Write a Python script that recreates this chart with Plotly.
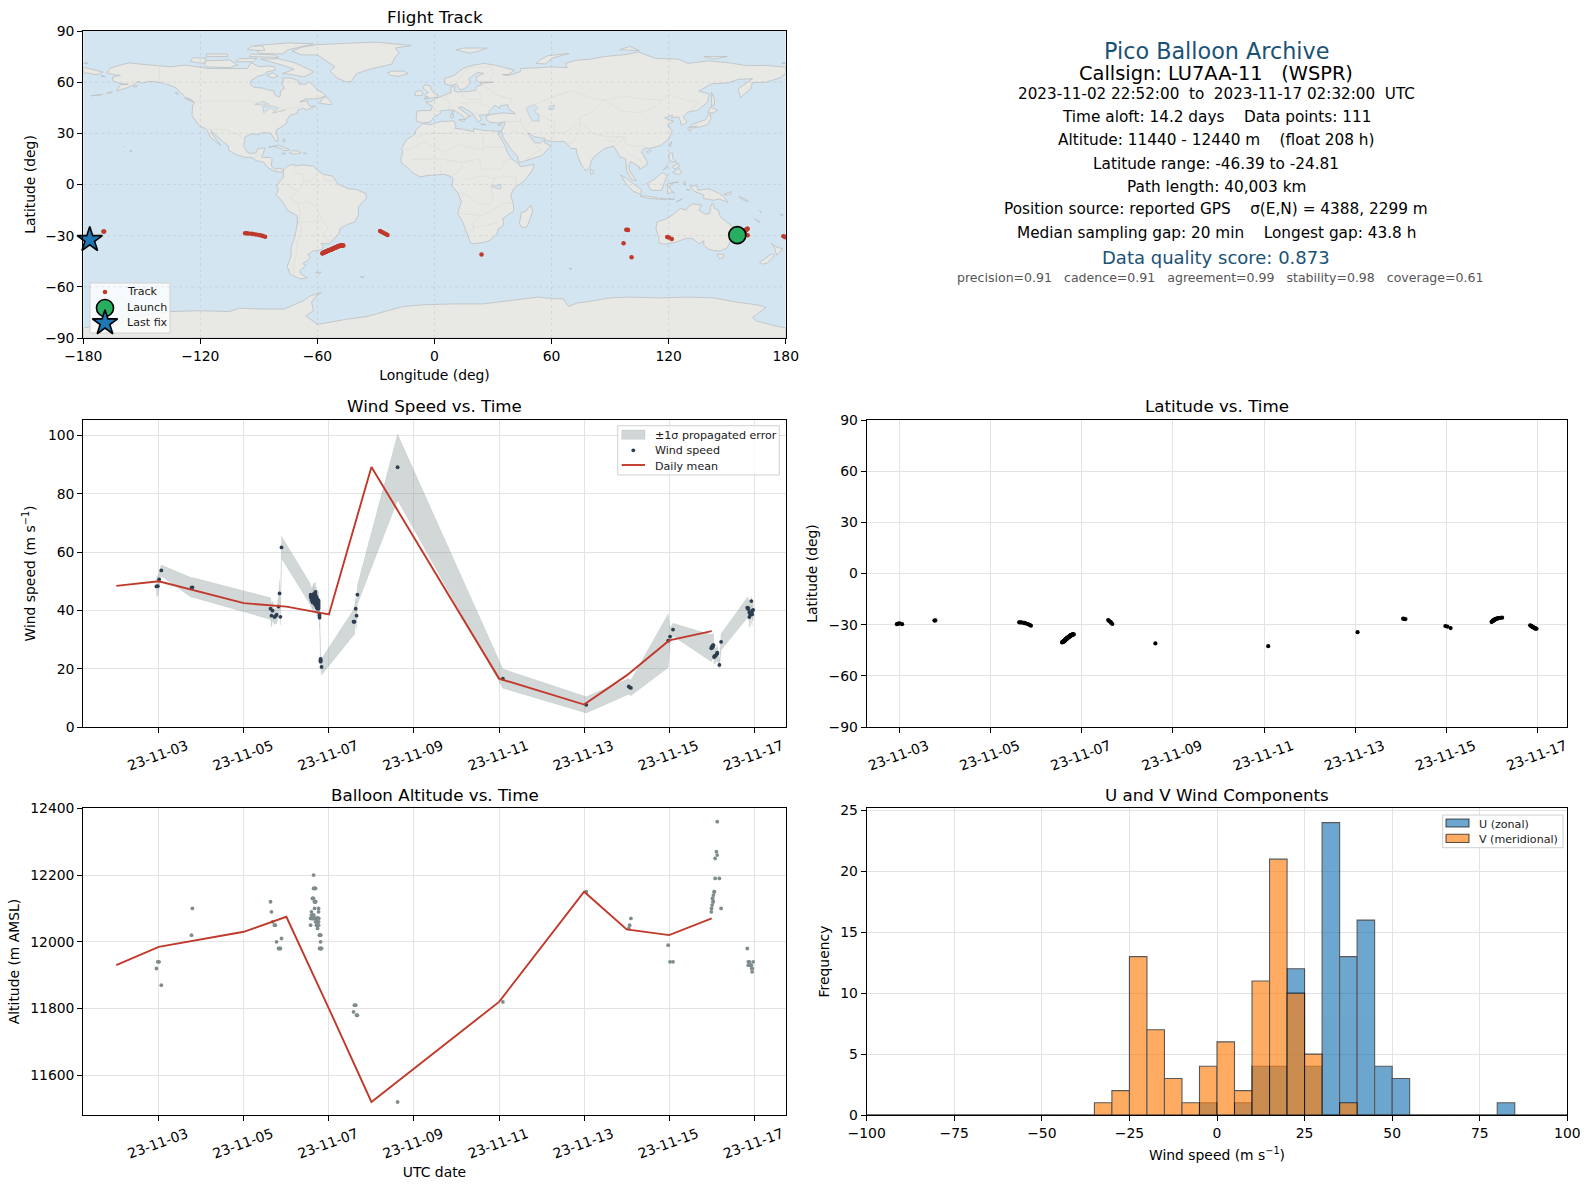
import datetime as dt
import plotly.graph_objects as go

# ---------- flight data (one entry per report) ----------
flight_day = [2.945, 2.976, 3.008, 3.06, 3.77, 3.79,
    5.627, 5.65, 5.675, 5.72, 5.74, 5.77, 5.816, 5.84, 5.86, 5.886,
    6.57, 6.57, 6.59, 6.59, 6.59, 6.616, 6.616, 6.616, 6.616, 6.616,
    6.64, 6.64, 6.64, 6.64, 6.64, 6.64, 6.64, 6.663, 6.663, 6.663, 6.663, 6.663,
    6.686, 6.686, 6.686, 6.686, 6.686, 6.686, 6.71, 6.71, 6.71, 6.71,
    6.733, 6.733, 6.733, 6.733, 6.733, 6.757, 6.757, 6.757, 6.757, 6.757, 6.757,
    6.78, 6.78, 6.78, 6.804, 6.804, 6.804, 6.804, 6.804, 6.827,
    7.58, 7.60, 7.63, 7.65, 7.67, 8.615, 11.09, 13.05, 14.05, 14.07, 14.10, 14.976, 15.02, 15.09,
    15.99, 15.995, 16.01, 16.02, 16.02, 16.03, 16.035, 16.04, 16.06, 16.06, 16.08, 16.08, 16.11, 16.13, 16.13, 16.18, 16.22,
    16.835, 16.86, 16.86, 16.885, 16.885, 16.90, 16.905, 16.93, 16.94, 16.95, 16.95, 16.975]
wind_speed = [48.2, 48.3, 50.6, 53.7, 47.8, 47.9,
    40.6, 38.2, 39.9, 37.7, 38.0, 38.5, 41.3, 45.8, 37.8, 61.6,
    45.4, 44.6, 45.0, 44.2, 43.6, 44.4, 45.0, 43.6, 43.0, 42.8,
    45.6, 44.6, 43.8, 43.2, 42.6, 44.0, 45.0, 45.8, 44.8, 44.0, 43.0, 42.4,
    46.3, 45.4, 44.2, 43.2, 42.4, 41.8, 44.6, 43.4, 42.0, 41.0,
    43.8, 43.0, 42.0, 41.2, 40.6, 43.4, 42.2, 41.2, 40.6, 42.8, 41.6,
    38.9, 37.5, 38.2, 23.4, 22.8, 22.6, 23.0, 22.4, 20.6,
    36.1, 36.1, 40.6, 38.2, 45.4, 89.1, 16.6, 7.6, 13.9, 13.6, 13.4, 29.6, 31.0, 33.4,
    27.0, 27.4, 27.2, 27.9, 27.5, 27.6, 28.1, 28.0, 24.0, 24.2, 24.3, 24.5, 24.8, 25.3, 25.5, 21.3, 29.2,
    40.9, 40.8, 40.4, 39.4, 37.7, 38.9, 38.4, 43.2, 39.2, 38.6, 39.8, 40.2]
wind_sigma = [3.5, 3.4, 2.4, 1.9, 3.4, 3.4,
    3.7, 4.0, 3.2, 2.6, 2.5, 3.0, 3.4, 4.8, 2.8, 3.8,
    3.6, 3.4, 3.2, 3.5, 3.1, 3.8, 3.3, 3.4, 3.6, 3.2,
    3.9, 3.5, 3.8, 3.3, 3.4, 3.2, 3.7, 3.6, 3.5, 3.7, 3.3, 3.4,
    3.4, 3.7, 3.3, 3.5, 3.6, 3.2, 3.4, 3.5, 3.3, 3.1,
    3.2, 3.3, 3.4, 3.0, 2.9, 3.1, 3.2, 3.3, 2.9, 3.0, 3.2,
    2.8, 3.0, 3.1, 3.0, 3.1, 3.2, 2.9, 3.0, 2.8,
    4.6, 4.6, 3.8, 4.5, 3.2, 11.3, 3.3, 2.8, 2.7, 2.6, 2.7, 9.2, 3.0, 2.2,
    4.6, 4.5, 4.4, 4.2, 4.3, 4.4, 4.1, 4.2, 2.6, 2.7, 2.6, 2.5, 2.4, 2.4, 2.5, 1.4, 2.8,
    3.5, 3.6, 3.5, 3.4, 3.6, 3.7, 3.8, 1.6, 3.6, 3.8, 3.7, 3.3]
altitude_m = [11920, 11940, 11940, 11870, 12020, 12100,
    12120, 12090, 12060, 12050, 12050, 12000, 11980, 11980, 11980, 12010,
    12050, 12070, 12090, 12080, 12070, 12130, 12080, 12070, 12130, 12070,
    12200, 12160, 12130, 12080, 12070, 12080, 12070, 12160, 12120, 12100, 12120, 12160,
    12160, 12120, 12070, 12060, 12070, 12120, 12070, 12050, 12070, 12050,
    12070, 12060, 12040, 12060, 12070, 12100, 12090, 12070, 12060, 12050, 12070,
    12020, 11980, 12020, 12020, 12000, 11980, 12020, 11980, 11980,
    11790, 11810, 11810, 11780, 11780, 11520, 11820, 12150, 12040, 12050, 12070, 11990, 11940, 11940,
    12090, 12100, 12110, 12130, 12130, 12120, 12120, 12140, 12150, 12150, 12190, 12250, 12270, 12260, 12360, 12190, 12100,
    11980, 11940, 11930, 11940, 11930, 11930, 11930, 11930, 11920, 11920, 11910, 11940]
latitude = [-29.7, -29.4, -29.3, -29.7, -27.6, -27.5,
    -28.6, -28.6, -28.7, -28.9, -29.0, -29.3, -29.6, -29.9, -30.2, -30.6,
    -40.4, -40.3, -40.1, -40.0, -39.9, -39.8, -39.7, -39.6, -39.5, -39.4,
    -39.3, -39.2, -39.1, -39.0, -38.9, -38.8, -38.7, -38.6, -38.5, -38.4, -38.3, -38.2,
    -38.1, -38.0, -37.9, -37.8, -37.7, -37.6, -37.5, -37.4, -37.3, -37.2,
    -37.1, -37.0, -36.9, -36.8, -36.7, -36.6, -36.5, -36.4, -36.3, -36.2, -36.1,
    -36.0, -35.9, -35.9, -35.8, -35.8, -35.8, -35.7, -35.7, -35.7,
    -27.3, -27.8, -28.4, -29.0, -29.6, -41.0, -42.6, -34.4, -26.5, -26.6, -26.7, -30.8, -31.1, -32.0,
    -28.4, -28.2, -28.0, -27.8, -27.7, -27.5, -27.4, -27.2, -27.1, -26.9, -26.8, -26.6, -26.5, -26.3, -26.2, -26.0, -25.9,
    -30.4, -30.7, -30.9, -31.1, -31.3, -31.5, -31.6, -31.8, -32.0, -32.2, -32.4, -32.4]
longitude = [155.2, 157.5, 159.3, 160.5, -169.7, -169.3,
    -97.1, -96.3, -95.5, -94.0, -93.0, -91.5, -90.0, -88.8, -88.0, -86.8,
    -57.5, -57.3, -57.1, -56.9, -56.7, -56.5, -56.3, -56.1, -55.9, -55.7,
    -55.5, -55.3, -55.1, -54.9, -54.7, -54.5, -54.3, -54.1, -53.9, -53.7, -53.4, -53.2,
    -53.0, -52.8, -52.6, -52.4, -52.2, -52.0, -51.8, -51.6, -51.4, -51.2,
    -51.0, -50.8, -50.6, -50.4, -50.2, -50.0, -49.8, -49.6, -49.4, -49.2, -49.0,
    -48.8, -48.6, -48.3, -48.1, -47.9, -47.6, -47.3, -47.0, -46.7,
    -27.9, -27.0, -26.0, -25.0, -24.1, 24.1, 101.0, 96.9, 98.3, 98.8, 99.2, 119.3, 120.2, 121.6,
    158.0, 158.2, 158.4, 158.5, 158.7, 158.8, 159.0, 159.1, 159.3, 159.4, 159.5, 159.7, 159.8, 160.0, 160.1, 160.3, 160.5,
    178.8, 179.6, 179.9, -179.8, -179.2, -178.7, -178.3, -178.0, -177.7, -177.4, -177.1, -176.7]
assert len({len(flight_day), len(wind_speed), len(wind_sigma), len(altitude_m), len(latitude), len(longitude)}) == 1

# daily means
mean_day = [2, 3, 5, 6, 7, 8, 11, 13, 14, 15, 16]
mean_wind = [48.4, 50.0, 42.5, 41.3, 38.6, 89.2, 16.6, 7.7, 17.7, 29.7, 32.9]
mean_altitude = [11930, 11985, 12030, 12075, 11800, 11520, 11820, 12150, 12037, 12020, 12070]

# histogram (5 m/s bins)
bin_edges = list(range(-100, 105, 5))
u_counts = [0]*19 + [1, 0, 1, 4, 4, 12, 4, 24, 13, 16, 4, 3, 0, 0, 0, 0, 0, 1, 0, 0, 0]
v_counts = [0]*13 + [1, 2, 13, 7, 3, 1, 4, 6, 2, 11, 21, 10, 5, 0, 1, 0, 0, 0, 0, 0, 0, 0, 0, 0, 0, 0, 0, 0]
u_counts = u_counts[:40]
v_counts = v_counts[:40]

info_lines = [
    ("Pico Balloon Archive", 22.3, "#1a5276", 51, 1216),
    ("Callsign: LU7AA-11   (WSPR)", 19.4, "#000000", 73.3, 1216),
    ("2023-11-02 22:52:00  to  2023-11-17 02:32:00  UTC", 15.2, "#000000", 94.5, 1216),
    ("Time aloft: 14.2 days    Data points: 111", 15.3, "#000000", 117.5, 1216),
    ("Altitude: 11440 - 12440 m    (float 208 h)", 15.3, "#000000", 140.5, 1216),
    ("Latitude range: -46.39 to -24.81", 15.3, "#000000", 163.7, 1216),
    ("Path length: 40,003 km", 15.3, "#000000", 186.7, 1216),
    ("Position source: reported GPS    σ(E,N) = 4388, 2299 m", 15.3, "#000000", 209.3, 1216),
    ("Median sampling gap: 20 min    Longest gap: 43.8 h", 15.3, "#000000", 232.7, 1216),
    ("Data quality score: 0.873", 18.0, "#1a5276", 257.5, 1216),
    ("precision=0.91   cadence=0.91   agreement=0.99   stability=0.98   coverage=0.61", 12.55, "#555555", 278, 1220),
]

# ---------- base map outlines (lon, lat) ----------
north_america = [(-168,65.5),(-166,68.3),(-161,70),(-156.5,71.3),(-150,70.5),(-141,69.6),(-135,69),(-128,70),(-124,69.5),(-115,68),(-108,68),(-102,67.8),(-96,68),(-94,71.5),(-90,69),(-85.5,69.5),(-82,69),(-81.5,67),(-86,66),(-87,64.5),(-90.5,63.5),(-94,61),(-94.5,59),(-92.5,57),(-88,56.5),(-85,55.3),(-82.3,55),(-82,52.8),(-80,51.3),(-79,52),(-79,54.5),(-76.8,56.5),(-78.3,58.8),(-77.5,60.5),(-78,62.4),(-73.5,62.4),(-70,61),(-69.5,59),(-66,58.7),(-64.5,60.3),(-62,58),(-60,55.5),(-57,53.5),(-55.7,52),(-60,50.2),(-66,50.2),(-69,48.5),(-65,49),(-65,47.5),(-64,46),(-61,45.8),(-66,43.6),(-67,45),(-70,43.7),(-70.5,41.7),(-74,40.6),(-75.5,38),(-76,35.5),(-78,33.9),(-81,32),(-81.3,30),(-80,26.8),(-80.5,25.2),(-81.8,26),(-82.8,28),(-84,30),(-86,30.4),(-89,30.2),(-90,29.2),(-94,29.6),(-97,28),(-97.5,25),(-97.8,22.5),(-96,19),(-94.5,18.2),(-91.5,18.5),(-90.5,21),(-87,21.5),(-87.7,18.5),(-88.7,16),(-84,15.8),(-83.2,14.9),(-83.7,11),(-82,9),(-79.5,9.5),(-77.4,8.7),(-78,7.3),(-80,7.3),(-81,7.7),(-83,8.3),(-85.5,10),(-87.5,13),(-91.5,14),(-94,16),(-97,15.9),(-101.5,17.5),(-105.5,20),(-105.5,22.5),(-109,25.6),(-112.5,29.5),(-114.7,31.7),(-113,28),(-110,24),(-109.5,23),(-112,25),(-115,28),(-116,30.5),(-117.2,32.6),(-120.5,34.5),(-122.5,37.5),(-124.3,40.4),(-124,46),(-123,48.2),(-125,50),(-127.5,51),(-130.5,54.5),(-133,57),(-137,58.7),(-140,59.7),(-146,60.5),(-150,59.5),(-152,60.5),(-154,58.5),(-158,56.5),(-163,54.8),(-161,58.5),(-157,58.7),(-162,59.5),(-165,61),(-165,63),(-161,64),(-165,64.5)]
south_america = [(-77.4,8.7),(-75.5,10.7),(-72,12),(-71.5,10.8),(-68,11.5),(-62,10.7),(-60,8.4),(-57,6),(-52,4.8),(-50,1),(-48,-0.7),(-44,-2.5),(-40,-2.9),(-35.2,-5.3),(-34.8,-8),(-39,-13),(-39,-18),(-41,-22),(-45,-23.6),(-48.5,-26),(-48.7,-28.5),(-52,-32.5),(-54,-34.8),(-58,-34.5),(-57,-36.5),(-58,-38.3),(-62,-39),(-65,-41),(-63.5,-42.5),(-65.5,-45),(-67.5,-46.3),(-65.8,-47.5),(-69,-50.5),(-68.4,-52.5),(-65.2,-54.8),(-69,-55.4),(-74,-52.5),(-75.5,-48),(-73.5,-42),(-73.5,-37),(-71.5,-30),(-70.2,-22),(-70.5,-18.3),(-75.5,-15),(-78,-10),(-81.2,-6),(-80,-3),(-81,-1),(-79.5,1.5),(-77.5,4),(-77.5,7)]
africa = [(-6,35.8),(-2,35.1),(3,36.9),(10,37.3),(11,34),(10.5,33),(15,32.3),(20,31),(20,32.8),(25,31.7),(32,31.2),(34.3,31.3),(32.5,30),(34,27),(36,23),(37.3,19),(39.5,15),(43.2,12),(44,10.5),(51.2,11.8),(50,8),(46,2),(41,-2),(39,-6),(40.5,-12),(40.5,-15.5),(35,-20),(35.5,-24),(32.7,-26),(32,-29),(28,-33),(25,-34),(20,-34.8),(18.3,-33.9),(17,-29.5),(14.5,-22),(11.8,-17),(13.8,-10),(12,-5),(9,-1),(9.5,3.5),(8.5,4.6),(5,6),(1,5.8),(-4,5.2),(-7.5,4.4),(-11,6.8),(-13.5,9.5),(-16.8,12.4),(-17.3,14.7),(-16.2,19),(-17,21),(-14.5,26),(-10,29.5),(-9.5,32)]
eurasia = [(-5.5,36),(-9,37),(-9.4,38.7),(-8.9,43.2),(-1.8,43.4),(-1.1,46),(-4.7,48.4),(-1.6,48.7),(1.5,50.8),(4,52),(7,53.5),(8.5,54),(8.2,57),(10.5,57.6),(10,55),(12,54.2),(18,54.7),(21,55.3),(21.5,57.5),(24,58.3),(23.5,59.3),(30,60),(23,60),(21.5,61),(21.5,63),(25.2,65.2),(22,65.6),(17.5,62),(18.5,60),(16.5,57),(14,55.5),(12.8,56),(11.3,58.8),(8,58.1),(5.3,59),(5,62),(10,64),(14.5,68),(20,70),(25.5,71),(31,70),(41,67),(38,64.5),(34.8,64.5),(37,63.9),(40,64.6),(44,66.2),(44,68),(54,68.5),(60,69),(68,68.5),(67,71),(72.5,72.8),(80,73.5),(87,75),(98,76.2),(104.5,77.7),(113,74),(125,73.5),(130,71),(140,72.5),(150,71.5),(160,69.7),(170,69.8),(178,69),(180,68.8),(180,65),(177,62.5),(170,60),(163,59.8),(162,56),(156.8,51),(155.6,56),(163,62),(156,61.7),(150,59.5),(142,59),(135.5,54.8),(141,53),(140,48.5),(135,43.5),(130,42.5),(127.5,39.8),(129.4,36.5),(126.5,34.5),(126,37.5),(125,39.7),(121.5,39),(122,40.7),(118,39),(122.5,37),(119.3,35),(121.8,31.5),(120,26.5),(116,22.9),(110,21),(108,21.6),(106,19),(109,13.5),(109,11.5),(105,8.8),(105,10.3),(102,12.5),(100.5,13.5),(99.5,11),(100,8),(103.5,2),(101,3),(98.5,8),(98,15),(95,16),(94,18.5),(91.7,22.5),(89,21.8),(87,21),(82,16.5),(80.3,14),(79.8,10.5),(77.5,8),(75,12),(73,18),(72.7,21),(70,21),(68,23.7),(66.5,25.3),(61.5,25.1),(57,25.8),(56.5,27),(51,28),(49,30),(48,29.9),(50,26.6),(51.5,24.5),(54,24.2),(56.3,26),(56.5,24.5),(59.8,22.5),(55,17),(45,13),(43.3,12.7),(42.5,16.5),(39,21),(35,28),(35,29.5),(34.2,31.3),(35.9,35),(36,36.8),(32,36.1),(28,36.6),(26.5,38.5),(26.5,40.2),(29,41.1),(35,42),(41.5,41.5),(38,44.4),(37.5,46.8),(33.5,46),(33.5,44.5),(31,46.5),(28,43),(28,41.5),(26,40.8),(23,40.5),(24,38),(22.5,36.5),(19.5,41),(19,42.2),(13.7,45.7),(12.3,45),(16,41.8),(18.5,40),(16.5,39.5),(16,38),(14,40.7),(10,43.5),(7,43.7),(3.3,43.2),(3.2,41.8),(-0.3,39.5),(-2,36.8)]
chukotka = [(-180,68.8),(-175,67.5),(-170,66),(-173,64.3),(-178,65.5),(-180,65)]
greenland = [(-73,78.2),(-68,76),(-60,76),(-54,71),(-51,69),(-53.5,66.5),(-50,62.5),(-45,60),(-42.5,60.5),(-40,65),(-32,68),(-22,70.5),(-20,75),(-18,77),(-20,80),(-12,81.5),(-30,83.5),(-45,82.8),(-60,82),(-68,80.5)]
australia = [(114,-22),(113.5,-26),(115,-31.5),(115,-34.3),(118,-35),(123.5,-33.9),(129,-31.6),(131.5,-31.5),(134,-33),(135.5,-34.8),(138,-33),(138,-35.6),(140.5,-38),(143.5,-38.8),(146.3,-39),(150,-37.3),(151.5,-33.5),(153.3,-29),(153,-25),(150.8,-23),(146.5,-19),(145.5,-15),(143.5,-14),(142.5,-10.8),(141.5,-13),(141,-17),(139,-17.5),(135.5,-15),(136.8,-12),(132.5,-11.3),(130,-13),(129,-15),(126,-14),(122.5,-17.5),(119,-20)]
antarctica = [(-180,-84),(-165,-82),(-155,-79),(-148,-76.5),(-135,-74.5),(-120,-74),(-105,-74.5),(-100,-72.5),(-90,-73),(-77,-73),(-71,-70),(-67,-68),(-64,-65.5),(-58,-63.2),(-61,-66),(-63,-69),(-62,-74),(-66,-77),(-60,-82),(-45,-79),(-35,-77.5),(-27,-75),(-16,-71.5),(-5,-70.5),(10,-70),(25,-70),(40,-68),(53,-66),(62,-67),(66,-67),(68.7,-71.5),(73,-69.5),(77,-69),(90,-66.5),(100,-66),(115,-66.5),(130,-66),(143,-66.5),(155,-69),(165,-70.5),(170,-72),(165,-76),(163,-78),(165,-80),(175,-83),(180,-84),(180,-90),(-180,-90)]
islands = [
 [(-62,66),(-67,63),(-73,64.5),(-78,65),(-72,67.5),(-78,70),(-89,73.5),(-80,73.7),(-72,71.5),(-67,69)],
 [(-117,69),(-105,68.5),(-101,70),(-105,73),(-117,72.5),(-118,70.5)],
 [(-125,72),(-118,71),(-117,74),(-124,74.4)],
 [(-90,77),(-78,76.5),(-75,79),(-62,82.5),(-75,83),(-92,81.5)],
 [(-95,75),(-80,74.5),(-82,76),(-94,76.5)],
 [(-117,75),(-106,75),(-106,76.5),(-117,76.5)],
 [(-102,72),(-93,72),(-91,74),(-100,73.8)],
 [(-96,79),(-87,78.5),(-88,81.2),(-94,81)],
 [(-83,62.5),(-80,63.5),(-83,65.5),(-86,64)],
 [(-59,47.6),(-55.5,46.9),(-53,46.8),(-52.8,48),(-55.5,51.5),(-57.5,50.5)],
 [(-85,21.9),(-80,23),(-75,20.7),(-74.2,20.2),(-77.5,19.9),(-78,20.7),(-82,22.4)],
 [(-74.3,18.4),(-73,19.9),(-69.8,19.6),(-68.4,18.6),(-71.5,17.8)],
 [(-78.3,18.4),(-76.3,18.2),(-77,17.8)],
 [(-67.2,18.5),(-65.6,18.4),(-66.5,17.9)],
 [(-78,25),(-77,27),(-76.5,25)],
 [(-24,65.5),(-22,66.4),(-16,66.5),(-13.5,65),(-18.5,63.4),(-22.5,63.9)],
 [(-5.5,50),(1.5,51.2),(1.7,52.7),(-0.2,53.5),(-2,56),(-2,57.7),(-5,58.6),(-6,56.5),(-3,54),(-4.5,53.2),(-5,51.7),(-3,51.3)],
 [(-10,52),(-6.2,52.2),(-6,54),(-7.5,55.3),(-10,54)],
 [(11,79),(18,77),(22,78),(27,80),(15,80)],
 [(52,71),(57,70.7),(60,74),(69,76.8),(58,75.5),(54,73)],
 [(95,79),(105,78.5),(100,81)],
 [(138,75),(150,75),(143,73.5)],
 [(12.5,38),(15.5,38.2),(15,36.8)],
 [(8.3,41),(9.7,41),(9.5,39),(8.5,39)],
 [(8.7,42.5),(9.5,43),(9.3,41.5)],
 [(23.6,35.5),(26.3,35.2),(24.7,34.9)],
 [(32.4,35),(34.5,35.6),(33.6,34.7)],
 [(130.9,34),(135,33.5),(140,35),(141.5,38),(141.5,41.2),(140,40.5),(139,38),(136.7,37),(132.5,35.5)],
 [(140,42),(141.5,45.4),(145.3,43.5),(143,42)],
 [(130,33.5),(131.7,33.5),(131,31),(130,32)],
 [(132.5,34),(134.5,34.3),(133,33)],
 [(142,54),(143.5,50),(143.5,46.5),(142,46),(142,50)],
 [(120.2,23),(121.5,25.2),(121,22)],
 [(108.7,19.2),(110.5,20),(111,19.5),(109.5,18.2)],
 [(79.8,9),(81.5,8),(81.5,6.5),(80,6)],
 [(120,16),(120.5,18.4),(122.2,18.4),(122,15.5),(124,13),(120.7,13.8)],
 [(122,7),(125.5,9.5),(126.5,7),(125,5.8)],
 [(117.3,8.5),(119.5,11.3),(119.3,10)],
 [(122,10.5),(125,12.5),(125.5,10.5),(123,9)],
 [(109,0.5),(113,3.3),(116.7,7),(119.3,5.2),(117.7,1),(116.5,-3.5),(111,-3.3),(109.5,-0.5)],
 [(95.3,5.6),(98,4),(103.5,-1),(106,-3),(105.8,-5.8),(102,-4),(98.5,0)],
 [(105.3,-6.7),(108.5,-6.7),(114.5,-7.8),(114.4,-8.7),(108,-7.8)],
 [(119.5,-5.5),(119.5,0.5),(125,1.5),(121,0.4),(120.5,-2.5),(123,-5),(121.5,-4.2),(120.5,-5.5)],
 [(131,-0.8),(134.5,-0.8),(135,-3.3),(141,-2.6),(145.5,-5),(147.8,-6.5),(150.5,-10.5),(146,-8.5),(143,-9.2),(138,-8.3),(138,-6),(133,-4)],
 [(148.5,-5.6),(152,-4.2),(152,-5.5),(150,-6.3)],
 [(124,-10.2),(127,-8.4),(125,-9.2)],
 [(119.8,-8.6),(123,-8.3),(122.8,-8.8),(120,-8.9)],
 [(115,-8.2),(119,-8.3),(119,-8.9),(116,-8.9)],
 [(127.5,1),(128.5,2),(128.5,-0.5)],
 [(129,-3),(130.8,-3.2),(129.5,-3.4)],
 [(156,-7),(160,-9),(161,-10),(158,-9)],
 [(164,-20),(167,-22),(166,-22.2)],
 [(166.6,-15),(167.5,-16.5),(167,-15.5)],
 [(177.2,-17.5),(178.7,-17.8),(178,-18.3)],
 [(144.8,-40.8),(148.3,-41),(148,-43),(146,-43.5),(145.2,-42)],
 [(172.7,-34.5),(175,-36.5),(178.5,-37.7),(175.5,-41.5),(174.8,-39.5),(174.5,-37.5)],
 [(172.7,-40.6),(174.3,-41.7),(170.7,-46),(168,-46.7),(166.5,-45.8),(171,-42)],
 [(49.3,-12),(50.4,-15.5),(47.5,-24.7),(45,-25.5),(43.5,-23),(44.5,-16.5),(47,-15.5)],
 [(69,-49),(70.5,-49.3),(69.5,-49.8)],
 [(-156,19),(-155,19.7),(-155.8,20.2)],
 [(-159.7,22),(-159.3,22.2),(-159.4,21.9)],
 [(-61,-51.5),(-58,-51.4),(-59,-52.3)],
 [(-128,50.6),(-123.5,48.4),(-125,48.8)],
 [(-133,53.8),(-131.5,54),(-131.5,52.5)],
 [(-154.5,57.5),(-152.3,58),(-153,57)],
 [(-171,63.7),(-168.7,63.3),(-170,63.2)],
 [(-180,71),(-178,71.5),(-177.5,71)],
 [(178,71.2),(180,71.5),(180,70.8)],
 [(-176,52),(-170,52.8),(-172,52.3)],
 [(-168,53.5),(-165,54.5),(-166,53.6)],
 [(-38,-54),(-36,-54),(-37,-54.8)],
]
inland_seas = [
 [(47,45),(51,47),(53,45),(51,43),(53.5,41),(53.5,37),(50,37.3),(49,39.5),(47.5,43)],
 [(59,46),(61.5,46.5),(61,44),(58.5,44)],
 [(-92,47),(-88,48.8),(-84.7,47),(-87.5,46.5)],
 [(-88,45.5),(-86.5,45.8),(-83,46),(-80,45),(-82,43),(-84,45),(-86.5,43),(-87.5,42)],
 [(-83,42),(-79,43),(-76.5,43.7),(-79.5,43.3),(-81,42.5)],
 [(29,-1),(34,0),(34,-2.5),(32,-2.5)],
]
borders = [
 [(-141,69.6),(-141,60.2),(-137,58.9)],
 [(-123,49),(-95,49),(-89,48),(-83,46),(-82.5,42.5),(-79,43),(-75,45),(-71,45),(-67.5,47)],
 [(-117,32.5),(-108,31.5),(-106,31.7),(-101,29.5),(-97.3,26)],
 [(-92,14.5),(-91,17.5),(-89,17.8),(-88.5,15.8)],
 [(-72,11.8),(-72,7),(-67,6),(-67,1.5),(-70,-4.2),(-74,-8),(-70,-11),(-69,-16),(-69.5,-22),(-68,-27),(-70,-33),(-71,-40),(-72,-48),(-72,-52)],
 [(-60,8.4),(-60.5,5),(-64,2),(-67,1.5)],
 [(-57,6),(-56,2),(-52,2.5),(-51.5,4.4)],
 [(-70,-11),(-65,-10),(-60,-14),(-58,-20),(-54.5,-25.7),(-57.5,-30),(-53.5,-33.5)],
 [(-69,-22),(-62.5,-22),(-58,-20)],
 [(-78,0.5),(-75,-0.2),(-70,-4.2)],
 [(-1.8,43.4),(3.2,42.5)],
 [(3,51.3),(6,49.5),(8,47.7),(7,43.9)],
 [(7,53.5),(6,51),(8,49)],
 [(14,54),(15,51),(18,49.5),(24,50),(23,54),(21,55.3)],
 [(13,47.5),(17,48),(22.5,48),(28,45.5)],
 [(19,42.2),(22,41.2),(26,41.5)],
 [(28,60.5),(30,65),(29,69.5)],
 [(12,61),(15,66),(20,69),(25.5,68.5),(29,69.5)],
 [(24,58),(28,56),(32,52.5),(40,50),(39,47.5)],
 [(47,45),(60,51),(70,55),(80,51),(87,49.5),(98,52),(107,50),(117,49.7),(120,53),(127,50),(135,48),(131,43)],
 [(87,49.5),(80,42),(74,39),(75,36),(79,32.5),(81,30),(88,28),(97,28),(98,24),(102,22),(106,23),(108,21.6)],
 [(117,49.7),(112,44.5),(105,42),(96,43),(87,49.5)],
 [(53.5,41),(62,36),(61,31),(61.5,25.1)],
 [(61,31),(66,30),(71,34),(75,36)],
 [(68,23.7),(71,25),(74,31),(75,36)],
 [(88,26),(92,25),(94,28)],
 [(92,21),(94,24),(98,28)],
 [(98,20),(101,17),(105,15),(107,12)],
 [(44.5,39.5),(44,37),(46,33),(48,30)],
 [(36,36.8),(42,37),(44.5,37)],
 [(39,32),(47,29.2),(52,22.5),(55,20),(52,19),(45,13)],
 [(-9,27.7),(-3,30),(9,30),(10,33)],
 [(-17,21),(-12,21),(-6,25),(5,19),(12,23.5),(25,20),(25,31.7)],
 [(25,22),(37,22)],
 [(-12,14.5),(-5,15),(3,15),(14,13),(23,15),(24,9),(34,9),(36,14),(39,15)],
 [(3,11),(3,6.3)],[(9,4.5),(14,10),(14,13)],[(16,3),(25,5),(31,3.5),(35,5),(42,4),(41,-2)],
 [(12,-5),(16,-6),(22,-11),(28,-12),(30,-8),(29,-1),(31,3.5)],
 [(11.8,-17),(24,-18),(30,-15),(35,-11.5),(40.5,-10.5)],
 [(17,-29),(20,-25),(26,-24),(32,-22.5)],
 [(23,-18),(20,-22),(20,-28)],
 [(141,-2.6),(141,-9)],
]
graticule_lon = [-120, -60, 0, 60, 120]
graticule_lat = [-60, -30, 0, 30, 60]

# ---------- layout helpers ----------
W, H = 1589, 1189
FONT = "DejaVu Sans"
TICK, LEG, TTL = 13.9, 11.1, 16.7
RED, NAVY, SLATE = "#c0392b", "#2c3e50", "#7f8c8d"
OCEAN, LAND, COAST, BORDER = "#d3e5f1", "#e8e8e4", "#bcbfc1", "#dcdcd8"
GRID = "#e3e3e3"
BLUE, ORANGE, GREEN = "#1f77b4", "#ff7f0e", "#27ae60"
BAND = "rgba(127,140,141,0.35)"

def when(d):
    return dt.datetime(2023, 11, 1) + dt.timedelta(days=d - 1)

def dom_x(a, b):
    return [a / W, b / W]

def dom_y(top, bottom):
    return [1 - bottom / H, 1 - top / H]

def base_axis(**kw):
    out = dict(showline=True, linecolor="black", linewidth=1.1, mirror=True, ticks="outside", ticklen=5,
               tickwidth=1.1, tickcolor="black", gridcolor=GRID, gridwidth=1, zeroline=False,
               tickfont=dict(family=FONT, size=TICK, color="black"), automargin=False,
               title=dict(font=dict(family=FONT, size=TICK, color="black")))
    out.update(kw)
    return out

def date_axis(rng, dom, anchor, title=None):
    kw = dict(type="date", range=[when(rng[0]), when(rng[1])], domain=dom, anchor=anchor,
              tick0="2023-11-03", dtick=2 * 86400000, tickformat="%y-%m-%d", tickangle=-20, ticklabelshift=28)
    ax = base_axis(**kw)
    if title:
        ax["title"]["text"] = title
        ax["title"]["standoff"] = 6
    return ax

def ring(points):
    xs = [p[0] for p in points] + [points[0][0], None]
    ys = [p[1] for p in points] + [points[0][1], None]
    return xs, ys

fig = go.Figure()

# --- map ---
for poly in [north_america, south_america, africa, eurasia, chukotka, greenland, australia, antarctica] + islands:
    xs, ys = ring(poly)
    fig.add_trace(go.Scatter(x=xs, y=ys, mode="lines", fill="toself", fillcolor=LAND, line=dict(color=COAST, width=0.8),
                             xaxis="x", yaxis="y", showlegend=False, hoverinfo="skip"))
for poly in inland_seas:
    xs, ys = ring(poly)
    fig.add_trace(go.Scatter(x=xs, y=ys, mode="lines", fill="toself", fillcolor=OCEAN, line=dict(color=COAST, width=0.6),
                             xaxis="x", yaxis="y", showlegend=False, hoverinfo="skip"))
bx, by = [], []
for line in borders:
    bx += [p[0] for p in line] + [None]
    by += [p[1] for p in line] + [None]
fig.add_trace(go.Scatter(x=bx, y=by, mode="lines", line=dict(color=BORDER, width=0.7), xaxis="x", yaxis="y",
                         showlegend=False, hoverinfo="skip"))
fig.add_trace(go.Scatter(x=longitude, y=latitude, mode="markers", name="Track", marker=dict(color=RED, size=4.5),
                         xaxis="x", yaxis="y", showlegend=False))
fig.add_trace(go.Scatter(x=longitude[:1], y=latitude[:1], mode="markers", name="Launch", cliponaxis=False,
                         marker=dict(color=GREEN, size=17, line=dict(color="black", width=1.6)), xaxis="x", yaxis="y", showlegend=False))
fig.add_trace(go.Scatter(x=longitude[-1:], y=latitude[-1:], mode="markers", name="Last fix", cliponaxis=False,
                         marker=dict(color=BLUE, size=19, symbol="star", line=dict(color="black", width=1.6)), xaxis="x", yaxis="y", showlegend=False))

# --- wind speed ---
times = [when(d) for d in flight_day]
upper = [w + s for w, s in zip(wind_speed, wind_sigma)]
lower = [w - s for w, s in zip(wind_speed, wind_sigma)]
fig.add_trace(go.Scatter(x=times + times[::-1], y=upper + lower[::-1], mode="lines", fill="toself",
                         fillcolor=BAND, line=dict(color="rgba(127,140,141,0.12)", width=1),
                         name="±1σ propagated error", xaxis="x2", yaxis="y2", showlegend=False))
fig.add_trace(go.Scatter(x=times, y=wind_speed, mode="markers", name="Wind speed", marker=dict(color=NAVY, size=3.8),
                         xaxis="x2", yaxis="y2", showlegend=False))
mean_times = [when(d) for d in mean_day]
fig.add_trace(go.Scatter(x=mean_times, y=mean_wind, mode="lines", name="Daily mean", line=dict(color=RED, width=1.9),
                         xaxis="x2", yaxis="y2", showlegend=False))

# --- latitude ---
fig.add_trace(go.Scatter(x=times, y=latitude, mode="markers", marker=dict(color="black", size=4.2), showlegend=False,
                         xaxis="x3", yaxis="y3"))

# --- altitude ---
fig.add_trace(go.Scatter(x=times, y=altitude_m, mode="markers", marker=dict(color=SLATE, size=3.8), showlegend=False,
                         xaxis="x4", yaxis="y4"))
fig.add_trace(go.Scatter(x=mean_times, y=mean_altitude, mode="lines", line=dict(color=RED, width=1.9), showlegend=False,
                         xaxis="x4", yaxis="y4"))

# --- histogram ---
centers = [(a + b) / 2 for a, b in zip(bin_edges[:-1], bin_edges[1:])]
fig.add_trace(go.Bar(x=centers, y=u_counts, width=5, name="U (zonal)", marker=dict(color=BLUE, line=dict(color="black", width=1.1)),
                     opacity=0.65, xaxis="x5", yaxis="y5", showlegend=False))
fig.add_trace(go.Bar(x=centers, y=v_counts, width=5, name="V (meridional)", marker=dict(color=ORANGE, line=dict(color="black", width=1.1)),
                     opacity=0.65, xaxis="x5", yaxis="y5", showlegend=False))

annotations = []

# --- legend keys, drawn on a hidden page-pixel overlay so they sit above the panels ---
def key_rect(x0, y0, x1, y1, fill, edge, width=1.0):
    fig.add_trace(go.Scatter(x=[x0, x1, x1, x0, x0], y=[y0, y0, y1, y1, y0], mode="lines", fill="toself", fillcolor=fill,
                             line=dict(color=edge, width=width), xaxis="x6", yaxis="y6", showlegend=False, hoverinfo="skip"))

def key_marker(x, y, **marker):
    fig.add_trace(go.Scatter(x=[x], y=[y], mode="markers", marker=marker, cliponaxis=False, xaxis="x6", yaxis="y6",
                             showlegend=False, hoverinfo="skip"))

def key_line(x0, x1, y, color, width):
    fig.add_trace(go.Scatter(x=[x0, x1], y=[y, y], mode="lines", line=dict(color=color, width=width), xaxis="x6", yaxis="y6",
                             showlegend=False, hoverinfo="skip"))

def key_text(text, x, y):
    annotations.append(dict(text=text, xref="paper", yref="paper", x=x / W, y=1 - y / H, xanchor="left", yanchor="middle",
                            showarrow=False, font=dict(family=FONT, size=LEG, color="#1a1a1a")))

PANEL = "rgba(255,255,255,0.8)"
FRAME = "#d0d0d0"
key_rect(90, 283, 170, 333, PANEL, FRAME)
key_marker(105, 292, color=RED, size=4.5)
key_marker(105, 308, color=GREEN, size=17, line=dict(color="black", width=1.6))
key_marker(105, 323, color=BLUE, size=19, symbol="star", line=dict(color="black", width=1.6))
key_text("Track", 125, 292)
key_text("Launch", 125, 308)
key_text("Last fix", 125, 323)

key_rect(617.7, 425.7, 779.3, 475, PANEL, FRAME)
key_rect(621.7, 430, 645, 439.3, BAND, "rgba(127,140,141,0.15)")
key_marker(633.3, 450.3, color=NAVY, size=3.8)
key_line(621.7, 645, 465, RED, 1.9)
key_text("±1σ propagated error", 653.3, 435.3)
key_text("Wind speed", 653.3, 450.3)
key_text("Daily mean", 653.3, 466)

key_rect(1442.7, 815, 1563, 847.7, PANEL, FRAME)
key_rect(1446, 819, 1469, 827, "rgba(31,119,180,0.65)", "rgba(0,0,0,0.65)", 1.1)
key_rect(1446, 834.3, 1469, 842.5, "rgba(255,127,14,0.65)", "rgba(0,0,0,0.65)", 1.1)
key_text("U (zonal)", 1477.3, 824)
key_text("V (meridional)", 1477.3, 839)

L1, R1, L2, R2 = 83.3, 785.7, 866.7, 1567.3
ROW = [(31, 338), (420, 727), (808, 1115)]

map_x = base_axis(range=[-180, 180], domain=dom_x(L1, R1), anchor="y", tickmode="array", tickvals=[-180, -120, -60, 0, 60, 120, 180], showgrid=False)
map_x["title"].update(text="Longitude (deg)", standoff=7)
map_y = base_axis(range=[-90, 90], domain=dom_y(*ROW[0]), anchor="x", tickvals=[-90, -60, -30, 0, 30, 60, 90], tickmode="array", showgrid=False)
map_y["title"].update(text="Latitude (deg)", standoff=6)

wind_y = base_axis(range=[0, 105.3], domain=dom_y(*ROW[1]), anchor="x2", dtick=20)
wind_y["title"].update(text="Wind speed (m s<sup>−1</sup>)", standoff=9)
lat_y = base_axis(range=[-90, 90], domain=dom_y(*ROW[1]), anchor="x3", tickmode="array", tickvals=[-90, -60, -30, 0, 30, 60, 90])
lat_y["title"].update(text="Latitude (deg)", standoff=7)
alt_y = base_axis(range=[11481, 12401], domain=dom_y(*ROW[2]), anchor="x4", dtick=200, tickformat="d")
alt_y["title"].update(text="Altitude (m AMSL)", standoff=7)
hist_x = base_axis(range=[-100, 100], domain=dom_x(L2, R2), anchor="y5", dtick=25)
hist_x["title"].update(text="Wind speed (m s<sup>−1</sup>)", standoff=10)
hist_y = base_axis(range=[0, 25.2], domain=dom_y(*ROW[2]), anchor="x5", dtick=5)
hist_y["title"].update(text="Frequency", standoff=7)

shapes = [dict(type="rect", xref="x domain", yref="y domain", x0=0, x1=1, y0=0, y1=1, fillcolor=OCEAN, line_width=0, layer="below")]
for v in graticule_lon:
    shapes.append(dict(type="line", xref="x", yref="y", x0=v, x1=v, y0=-90, y1=90, layer="above",
                       line=dict(color="rgba(128,128,128,0.2)", width=0.8, dash="dot")))
for v in graticule_lat:
    shapes.append(dict(type="line", xref="x", yref="y", x0=-180, x1=180, y0=v, y1=v, layer="above",
                       line=dict(color="rgba(128,128,128,0.2)", width=0.8, dash="dot")))

for text, x, y in [("Flight Track", (L1 + R1) / 2, 17.5), ("Wind Speed vs. Time", (L1 + R1) / 2, 405.5),
                   ("Latitude vs. Time", (L2 + R2) / 2, 405.5), ("Balloon Altitude vs. Time", (L1 + R1) / 2, 795),
                   ("U and V Wind Components", (L2 + R2) / 2, 795)]:
    annotations.append(dict(text=text, xref="paper", yref="paper", x=x / W, y=1 - y / H, xanchor="center", yanchor="middle",
                            showarrow=False, font=dict(family=FONT, size=TTL, color="black")))
for text, size, color, y, x in info_lines:
    annotations.append(dict(text=text, xref="paper", yref="paper", x=x / W, y=1 - y / H, xanchor="center", yanchor="middle",
                            showarrow=False, font=dict(family=FONT, size=size, color=color)))

fig.update_layout(
    width=W, height=H, autosize=False, margin=dict(l=0, r=0, t=0, b=0), paper_bgcolor="white", plot_bgcolor="rgba(0,0,0,0)",
    barmode="overlay", font=dict(family=FONT), shapes=shapes, annotations=annotations, showlegend=False,
    xaxis=map_x, yaxis=map_y,
    xaxis2=date_axis((1.226, 17.739), dom_x(L1, R1), "y2"), yaxis2=wind_y,
    xaxis3=date_axis((2.284, 17.65), dom_x(L2, R2), "y3"), yaxis3=lat_y,
    xaxis4=date_axis((1.226, 17.739), dom_x(L1, R1), "y4", "UTC date"), yaxis4=alt_y,
    xaxis5=hist_x, yaxis5=hist_y,
    xaxis6=dict(range=[0, W], domain=[0, 1], visible=False, fixedrange=True, anchor="y6"),
    yaxis6=dict(range=[H, 0], domain=[0, 1], visible=False, fixedrange=True, anchor="x6"),
)

fig.write_html("out.html", config=dict(displayModeBar=False, responsive=False),
               post_script="document.body.style.margin='0';")
